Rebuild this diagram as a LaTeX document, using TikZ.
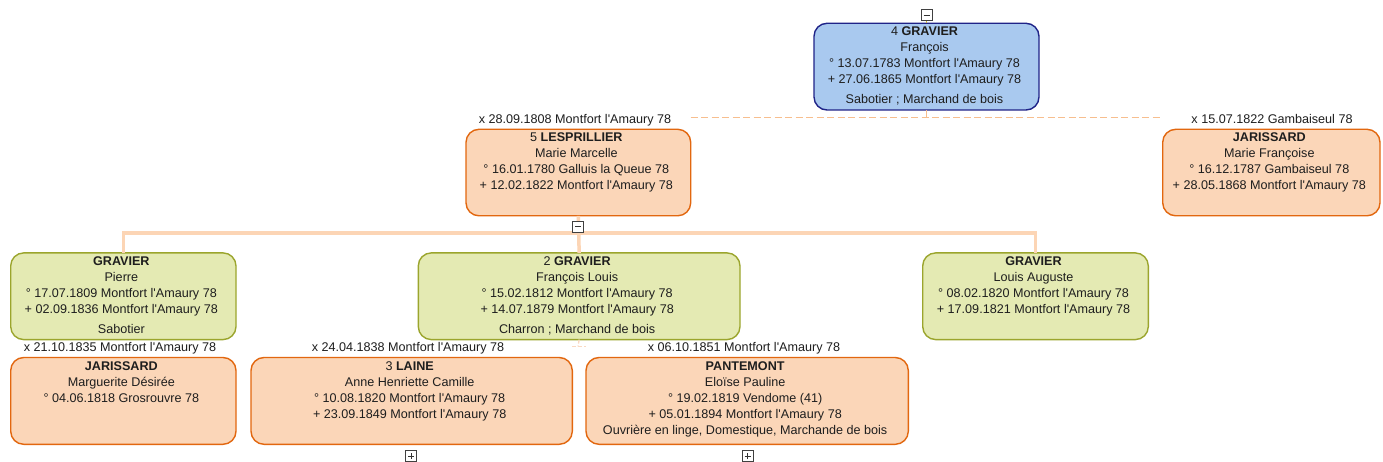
\documentclass[tikz,border=0pt]{standalone}
\usepackage{fontspec}
\newfontfamily\pf{Liberation Sans}
\definecolor{bluefill}{HTML}{A9C9EF}
\definecolor{blueline}{HTML}{1F2388}
\definecolor{orfill}{HTML}{FBD6B8}
\definecolor{orline}{HTML}{E2670F}
\definecolor{grfill}{HTML}{E4EAB3}
\definecolor{grline}{HTML}{9BA52D}
\definecolor{connc}{HTML}{FCD5B5}
\definecolor{dashc}{HTML}{F7BE8E}
\definecolor{faintc}{HTML}{FAD9C2}
\definecolor{txt}{HTML}{1E1E1E}
\definecolor{tick}{HTML}{C9B43A}
\newcommand\mkperson[7]{%
  \node[#2, minimum width={#5-#3}, minimum height={#6-#4}] (#1) at ({(#3+#5)/2},{(#4+#6)/2}) {};
  \node[ptext] (#1t) at ({(#3+#5)/2-2},{#4+2.5}) {\rule{0pt}{10pt}#7};
}
\begin{document}
\begin{tikzpicture}[x=1pt,y=-1pt,
  pbase/.style={rectangle, rounded corners=13pt, line width=1.4pt, inner sep=0pt, outer sep=0pt},
  bluebox/.style={pbase, draw=blueline, fill=bluefill},
  orbox/.style={pbase, draw=orline, fill=orfill},
  grbox/.style={pbase, draw=grline, fill=grfill},
  ptext/.style={anchor=north, inner sep=0pt, align=center, text=txt, font=\pf\fontsize{12.6}{16}\selectfont},
  mlabel/.style={anchor=base, inner sep=0pt, text=txt, font=\pf\fontsize{12.6}{16}\selectfont},
  conn/.style={draw=connc, line width=3.5pt},
  sdash/.style={draw=dashc, line width=1.4pt, dash pattern=on 7pt off 3.5pt},
  fdash/.style={draw=faintc, line width=1.3pt, dash pattern=on 4pt off 2pt},
  cbox/.style={rectangle, draw=black!75, fill=white, line width=0.9pt, minimum size=11pt, inner sep=0pt},
  cmark/.style={draw=black!80, line width=0.9pt}
]
\fill[white] (0,0) rectangle (1383,462);
\useasboundingbox (0,0) rectangle (1383,462);

% persons
\mkperson{n4}{bluebox}{814}{23.3}{1039}{110}{4 \textbf{GRAVIER}\\François\\° 13.07.1783 Montfort l'Amaury 78\\+ 27.06.1865 Montfort l'Amaury 78\\[4pt]Sabotier ; Marchand de bois}
\mkperson{n5}{orbox}{466}{129.3}{690.7}{215.8}{5 \textbf{LESPRILLIER}\\Marie Marcelle\\° 16.01.1780 Galluis la Queue 78\\+ 12.02.1822 Montfort l'Amaury 78}
\mkperson{n6}{orbox}{1162.7}{129.3}{1380}{215.8}{\textbf{JARISSARD}\\Marie Françoise\\° 16.12.1787 Gambaiseul 78\\+ 28.05.1868 Montfort l'Amaury 78}
\mkperson{np}{grbox}{10.7}{252.9}{236}{339.6}{\textbf{GRAVIER}\\Pierre\\° 17.07.1809 Montfort l'Amaury 78\\+ 02.09.1836 Montfort l'Amaury 78\\[4pt]Sabotier}
\mkperson{n2}{grbox}{418.3}{252.9}{740}{339.6}{2 \textbf{GRAVIER}\\François Louis\\° 15.02.1812 Montfort l'Amaury 78\\+ 14.07.1879 Montfort l'Amaury 78\\[4pt]Charron ; Marchand de bois}
\mkperson{nl}{grbox}{922.7}{252.9}{1148.3}{339.6}{\textbf{GRAVIER}\\Louis Auguste\\° 08.02.1820 Montfort l'Amaury 78\\+ 17.09.1821 Montfort l'Amaury 78}
\mkperson{nj}{orbox}{10.7}{357.5}{236}{444.3}{\textbf{JARISSARD}\\Marguerite Désirée\\° 04.06.1818 Grosrouvre 78}
\mkperson{n3}{orbox}{251}{357.5}{572.3}{444.3}{3 \textbf{LAINE}\\Anne Henriette Camille\\° 10.08.1820 Montfort l'Amaury 78\\+ 23.09.1849 Montfort l'Amaury 78}
\mkperson{n7}{orbox}{586}{357.5}{908.3}{444.3}{\textbf{PANTEMONT}\\Eloïse Pauline\\° 19.02.1819 Vendome (41)\\+ 05.01.1894 Montfort l'Amaury 78\\Ouvrière en linge, Domestique, Marchande de bois}

% marriage labels
\node[mlabel] (l5) at (575,123.8) {x 28.09.1808 Montfort l'Amaury 78};
\node[mlabel] (l6) at (1272,123.8) {x 15.07.1822 Gambaiseul 78};
\node[mlabel] (lj) at (120,351.8) {x 21.10.1835 Montfort l'Amaury 78};
\node[mlabel] (l3) at (408,351.8) {x 24.04.1838 Montfort l'Amaury 78};
\node[mlabel] (l7) at (744,351.8) {x 06.10.1851 Montfort l'Amaury 78};

% connectors
\coordinate (m1) at (926.5,117.5);
\coordinate (h) at (578,233);
\coordinate (m2) at (578,346.5);
\draw[sdash] (n4.south) -- (m1);
\draw[sdash] (n5.north east |- m1) -- (n6.north west |- m1);
\draw[conn] (n5.south) -- (n2.north);
\draw[conn] (np.north) -- (np.north |- h) -- (nl.north |- h) -- (nl.north);
\draw[fdash] (n2.south) -- (m2);
\draw[fdash] (n3.east |- m2) -- (n7.west |- m2);

% collapse / expand boxes
\node[cbox] (cb4) at (926.5,15) {};
\draw[draw=tick, line width=1.2pt] (cb4.south) -- (n4.north);
\draw[cmark] ([xshift=-3pt]cb4.center) -- ([xshift=3pt]cb4.center);
\node[cbox] (cb5) at (578,226.5) {};
\draw[cmark] ([xshift=-3pt]cb5.center) -- ([xshift=3pt]cb5.center);
\node[cbox] (cb3) at (411,456) {};
\draw[cmark] ([xshift=-3pt]cb3.center) -- ([xshift=3pt]cb3.center);
\draw[cmark] ([yshift=-3pt]cb3.center) -- ([yshift=3pt]cb3.center);
\node[cbox] (cb7) at (747.5,456) {};
\draw[cmark] ([xshift=-3pt]cb7.center) -- ([xshift=3pt]cb7.center);
\draw[cmark] ([yshift=-3pt]cb7.center) -- ([yshift=3pt]cb7.center);
\end{tikzpicture}
\end{document}
